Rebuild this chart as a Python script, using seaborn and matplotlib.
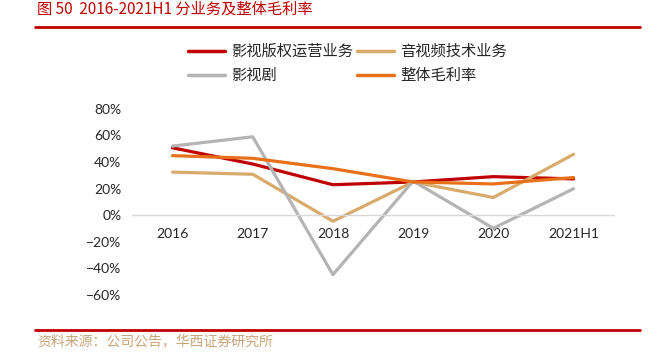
import pandas as pd
import matplotlib.pyplot as plt
import seaborn as sns
from matplotlib.ticker import PercentFormatter

# Data
years = ['2016', '2017', '2018', '2019', '2020', '2021H1']
copyright_ops = [0.507, 0.385, 0.229, 0.250, 0.290, 0.273]   # 影视版权运营业务
av_tech = [0.324, 0.308, -0.046, 0.250, 0.133, 0.458]        # 音视频技术业务
drama = [0.520, 0.590, -0.448, 0.257, -0.099, 0.199]         # 影视剧
overall = [0.448, 0.428, 0.350, 0.250, 0.235, 0.283]         # 整体毛利率

names = ['影视版权运营业务', '音视频技术业务', '影视剧', '整体毛利率']
colors = ['#C00000', '#D8AA6C', '#B4B4B4', '#E8701A']

df = pd.DataFrame({
    'year': years * 4,
    'value': copyright_ops + av_tech + drama + overall,
    'series': [n for n in names for _ in years],
})

sns.set_style('white')
plt.rcParams['font.family'] = ['Lato', 'Noto Sans CJK SC', 'DejaVu Sans']

fig = plt.figure(figsize=(6.62, 3.57), dpi=100)
ax = fig.add_axes([0.200, 0.174, 0.727, 0.521])

sns.lineplot(data=df, x='year', y='value', hue='series', hue_order=names,
             palette=colors, linewidth=2.3, sort=False, legend=False, ax=ax)

ax.set_xlim(-0.5, 5.5)
ax.set_ylim(-0.6, 0.8)
ax.set_yticks([-0.6, -0.4, -0.2, 0, 0.2, 0.4, 0.6, 0.8])
ax.yaxis.set_major_formatter(PercentFormatter(1.0, decimals=0))
ax.set_xlabel('')
ax.set_ylabel('')
for s in ['top', 'right', 'left']:
    ax.spines[s].set_visible(False)
ax.spines['bottom'].set_position(('data', 0))
ax.spines['bottom'].set_color('#D9D9D9')
ax.spines['bottom'].set_linewidth(1)
ax.tick_params(axis='x', length=0, pad=9, labelsize=10)
ax.tick_params(axis='y', length=0, pad=8, labelsize=10)

# legend, row order: red, tan / grey, orange
handles = [plt.Line2D([], [], color=c, linewidth=2.5) for c in colors]
order = [0, 2, 1, 3]
fig.legend([handles[i] for i in order], [names[i] for i in order],
           ncol=2, frameon=False, loc='center', bbox_to_anchor=(0.525, 0.822),
           handlelength=2.4, handletextpad=0.4, columnspacing=0.3,
           labelspacing=0.45, prop={'family': ['Noto Sans CJK SC'], 'size': 11})

# title and rules
fig.text(0.056, 0.999, '图 50  2016-2021H1 分业务及整体毛利率', color='#C00000',
         fontsize=11, va='top', ha='left', family=['Noto Sans CJK SC', 'DejaVu Sans'])
fig.add_artist(plt.Line2D([0.053, 0.967], [1 - 26.5 / 357] * 2, color='#C00000', linewidth=2))
fig.add_artist(plt.Line2D([0.053, 0.967], [1 - 330 / 357] * 2, color='#C00000', linewidth=2))
fig.text(0.056, 1 - 341 / 357, '资料来源：公司公告，华西证券研究所', color='#C9A57A',
         fontsize=10, va='center', ha='left', family=['Noto Sans CJK SC', 'DejaVu Sans'])

fig.savefig('out.png', dpi=100)
